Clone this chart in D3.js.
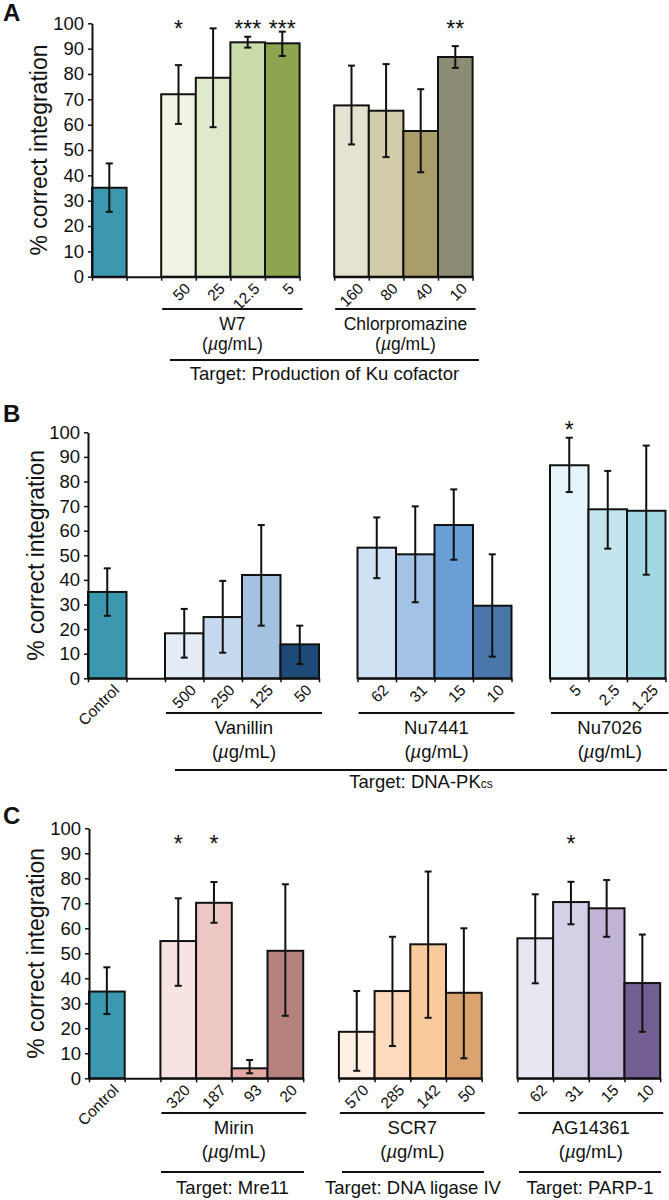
<!DOCTYPE html>
<html><head><meta charset="utf-8">
<script src="https://cdn.jsdelivr.net/npm/d3@7"></script>
<style>
body{margin:0;background:#fff}
svg{display:block}
text{font-family:"Liberation Sans",Arial,Helvetica,sans-serif;fill:#111}
</style></head>
<body><svg id="chart" width="669" height="1200"></svg>
<script>
// ---------- DATA ----------
const yTicks = [0,10,20,30,40,50,60,70,80,90,100];
const yTitle = "% correct integration";
const controlLabel = "Control";

// Panel A
const A_control = [35.1], A_controlLow = [25.6], A_controlHigh = [44.7];
const A_W7_doses = ["50","25","12.5","5"];
const A_W7_values = [72.0,78.5,92.5,92.1];
const A_W7_low = [60.3,59.0,90.4,87.1];
const A_W7_high = [83.5,98.0,94.7,96.7];
const A_W7_sig = ["*","","***","***"];
const A_CPZ_doses = ["160","80","40","10"];
const A_CPZ_values = [67.6,65.5,57.5,86.7];
const A_CPZ_low = [52.2,47.2,41.2,82.4];
const A_CPZ_high = [83.3,83.9,74.0,91.0];
const A_CPZ_sig = ["","","","**"];

// Panel B
const B_control = [35.1], B_controlLow = [25.4], B_controlHigh = [44.7];
const B_VAN_doses = ["500","250","125","50"];
const B_VAN_values = [18.3,24.9,42.0,13.8];
const B_VAN_low = [8.4,10.4,21.4,5.8];
const B_VAN_high = [28.2,39.6,62.3,21.4];
const B_VAN_sig = ["","","",""];
const B_N41_doses = ["62","31","15","10"];
const B_N41_values = [53.1,50.4,62.3,29.5];
const B_N41_low = [40.7,30.9,48.2,8.8];
const B_N41_high = [65.4,69.9,76.8,50.4];
const B_N41_sig = ["","","",""];
const B_N26_doses = ["5","2.5","1.25"];
const B_N26_values = [86.6,68.7,68.1];
const B_N26_low = [75.7,52.7,42.1];
const B_N26_high = [97.8,84.3,94.6];
const B_N26_sig = ["*","",""];

// Panel C
const C_control = [34.7], C_controlLow = [25.7], C_controlHigh = [44.4];
const C_MIR_doses = ["320","187","93","20"];
const C_MIR_values = [54.9,70.2,4.0,51.0];
const C_MIR_low = [37.0,62.2,2.0,25.0];
const C_MIR_high = [72.0,78.5,7.3,77.6];
const C_MIR_sig = ["*","*","",""];
const C_SCR_doses = ["570","285","142","50"];
const C_SCR_values = [18.6,34.9,53.6,34.2];
const C_SCR_low = [3.0,12.9,24.2,8.0];
const C_SCR_high = [34.9,56.6,82.7,60.0];
const C_SCR_sig = ["","","",""];
const C_AG_doses = ["62","31","15","10"];
const C_AG_values = [56.0,70.5,68.0,38.1];
const C_AG_low = [38.0,61.6,56.6,18.6];
const C_AG_high = [73.6,78.6,79.3,57.5];
const C_AG_sig = ["","*","",""];

// ---------- STYLE / LAYOUT ----------
const controlColor = "#3b98af";
const svg = d3.select("#chart");

function mkGroup(name, start, doses, values, low, high, sig, colors) {
  return {name, start, doses, values, low, high, sig, colors};
}

const panels = [
  {letter:"A", letterY:21, y0:276.7, y1:23.3, x0:92, slot:34.6, showControlLabel:false,
   control:[A_control[0],A_controlLow[0],A_controlHigh[0]],
   segments:[[0,6],[7,11]],
   titleX:47, nameSize:17.5, lineGap:21,
   groups:[
     mkGroup("W7",2,A_W7_doses,A_W7_values,A_W7_low,A_W7_high,A_W7_sig,["#eff4e4","#dfe9cb","#c9dcaa","#8ea54f"]),
     mkGroup("Chlorpromazine",7,A_CPZ_doses,A_CPZ_values,A_CPZ_low,A_CPZ_high,A_CPZ_sig,["#e5e2d1","#d2cca9","#a99d6b","#8c8b74"])
   ],
   nameY:330, unitY:350, starY:37,
   targets:[{text:"Target:  Production of Ku cofactor", x1:170, x2:479, lineY:360, textY:380}]
  },
  {letter:"B", letterY:422, y0:678.3, y1:432.3, x0:88, slot:38.5, showControlLabel:true,
   control:[B_control[0],B_controlLow[0],B_controlHigh[0]],
   segments:[[0,6],[7,11],[12,15]],
   titleX:44, nameSize:18.5, lineGap:21,
   groups:[
     mkGroup("Vanillin",2,B_VAN_doses,B_VAN_values,B_VAN_low,B_VAN_high,B_VAN_sig,["#e4edf7","#c7daed","#a4c1e1","#1e4a77"]),
     mkGroup("Nu7441",7,B_N41_doses,B_N41_values,B_N41_low,B_N41_high,B_N41_sig,["#d0e1f3","#a3c3e6","#6a9fd5","#4a76a9"]),
     mkGroup("Nu7026",12,B_N26_doses,B_N26_values,B_N26_low,B_N26_high,B_N26_sig,["#e5f3fa","#c4e5ef","#a4d7e4"])
   ],
   nameY:734, unitY:758, starY:438,
   targets:[{text:"Target: DNA-PK", sub:"cs", x1:175, x2:667, lineY:770, textY:788}]
  },
  {letter:"C", letterY:824, y0:1078.3, y1:828.3, x0:89, slot:35.7, showControlLabel:true,
   control:[C_control[0],C_controlLow[0],C_controlHigh[0]],
   segments:[[0,6],[7,11],[12,16]],
   titleX:44, nameSize:18.5, lineGap:21,
   groups:[
     mkGroup("Mirin",2,C_MIR_doses,C_MIR_values,C_MIR_low,C_MIR_high,C_MIR_sig,["#f7e4e2","#edc7c4","#e4a9a5","#b5817d"]),
     mkGroup("SCR7",7,C_SCR_doses,C_SCR_values,C_SCR_low,C_SCR_high,C_SCR_sig,["#fdf0e2","#fcdabb","#f9ca9b","#daa36f"]),
     mkGroup("AG14361",12,C_AG_doses,C_AG_values,C_AG_low,C_AG_high,C_AG_sig,["#e9e6f1","#d4d0e5","#c0b3d6","#745f92"])
   ],
   nameY:1134, unitY:1158, starY:852,
   targets:[
     {text:"Target: Mre11", x1:161, x2:304, lineY:1172, textY:1194},
     {text:"Target: DNA ligase IV", x1:342, x2:484, lineY:1172, textY:1194},
     {text:"Target: PARP-1", x1:519, x2:661, lineY:1172, textY:1194}
   ]
  }
];

function drawPanel(p) {
  const y = d3.scaleLinear().domain([0,100]).range([p.y0, p.y1]);
  const x = d3.scaleLinear().domain([0,1]).range([p.x0, p.x0 + p.slot]);
  const g = svg.append("g");

  g.append("text").attr("x",3).attr("y",p.letterY).attr("font-size",24).attr("font-weight","bold").text(p.letter);

  const bars = [{slot:0, v:p.control[0], lo:p.control[1], hi:p.control[2], color:controlColor, sig:""}];
  p.groups.forEach(gr => gr.values.forEach((v,i) => bars.push({
    slot: gr.start + i, v, lo: gr.low[i], hi: gr.high[i], color: gr.colors[i], sig: gr.sig[i], dose: gr.doses[i]
  })));

  g.selectAll("rect.bar").data(bars).join("rect").attr("class","bar")
    .attr("x", d => x(d.slot)).attr("width", d => x(d.slot+1) - x(d.slot))
    .attr("y", d => y(d.v)).attr("height", d => y(0) - y(d.v))
    .attr("fill", d => d.color).attr("stroke","#111").attr("stroke-width",2);

  const eb = g.selectAll("g.eb").data(bars).join("g").attr("class","eb")
    .attr("transform", d => `translate(${x(d.slot+0.5)},0)`);
  eb.append("line").attr("y1", d => y(d.lo)).attr("y2", d => y(d.hi)).attr("stroke","#111").attr("stroke-width",2);
  eb.append("line").attr("x1",-3.5).attr("x2",3.5).attr("y1", d => y(d.lo)).attr("y2", d => y(d.lo)).attr("stroke","#111").attr("stroke-width",2);
  eb.append("line").attr("x1",-3.5).attr("x2",3.5).attr("y1", d => y(d.hi)).attr("y2", d => y(d.hi)).attr("stroke","#111").attr("stroke-width",2);

  g.selectAll("text.sig").data(bars.filter(d => d.sig)).join("text").attr("class","sig")
    .attr("x", d => x(d.slot+0.5)).attr("y", p.starY).attr("text-anchor","middle").attr("font-size",23)
    .text(d => d.sig);

  const ya = g.append("g").attr("transform",`translate(${p.x0},0)`)
    .call(d3.axisLeft(y).tickValues(yTicks).tickSize(4).tickSizeOuter(0).tickPadding(4).tickFormat(d3.format("d")));
  ya.select(".domain").attr("stroke","#111").attr("stroke-width",2);
  ya.selectAll(".tick line").attr("stroke","#111").attr("stroke-width",1.5);
  ya.selectAll(".tick text").attr("font-size",18.5).attr("fill","#111").style("font-family",'"Liberation Sans",Arial,sans-serif');

  g.append("text").attr("transform",`translate(${p.titleX},${(p.y0+p.y1)/2}) rotate(-90)`)
    .attr("text-anchor","middle").attr("font-size",23).text(yTitle);

  p.segments.forEach(([s0,s1]) => {
    const xs = d3.scaleLinear().domain([s0,s1]).range([x(s0), x(s1)]);
    const xa = g.append("g").attr("transform",`translate(0,${y(0)})`)
      .call(d3.axisBottom(xs).tickValues(d3.range(s0,s1+1)).tickSize(4).tickSizeOuter(0).tickFormat(""));
    xa.select(".domain").attr("stroke","#111").attr("stroke-width",2);
    xa.selectAll(".tick line").attr("stroke","#111").attr("stroke-width",1.5);
  });

  const rot = bars.filter(d => d.dose !== undefined);
  g.selectAll("text.dose").data(rot).join("text").attr("class","dose")
    .attr("transform", d => `translate(${x(d.slot+0.5)+9},${y(0)+9}) rotate(-45)`)
    .attr("text-anchor","end").attr("dy","0.35em").attr("font-size",15.5).text(d => d.dose);
  if (p.showControlLabel) {
    g.append("text").attr("transform",`translate(${x(0.5)+9},${y(0)+9}) rotate(-45)`)
      .attr("text-anchor","end").attr("dy","0.35em").attr("font-size",15.5).text(controlLabel);
  }

  p.groups.forEach(gr => {
    const gx1 = x(gr.start), gx2 = x(gr.start + gr.values.length);
    const uy = p.nameY - p.lineGap;
    g.append("line").attr("x1",gx1+1).attr("x2",gx2+3).attr("y1",uy).attr("y2",uy).attr("stroke","#111").attr("stroke-width",2);
    const cx = (gx1+gx2)/2 + 2;
    g.append("text").attr("x",cx).attr("y",p.nameY).attr("text-anchor","middle").attr("font-size",p.nameSize).text(gr.name);
    const u = g.append("text").attr("x",cx).attr("y",p.unitY).attr("text-anchor","middle").attr("font-size",p.nameSize);
    u.append("tspan").text("(");
    u.append("tspan").attr("font-style","italic").text("\u00b5");
    u.append("tspan").text("g/mL)");
  });

  p.targets.forEach(t => {
    g.append("line").attr("x1",t.x1).attr("x2",t.x2).attr("y1",t.lineY).attr("y2",t.lineY).attr("stroke","#111").attr("stroke-width",2);
    const tx = g.append("text").attr("x",(t.x1+t.x2)/2).attr("y",t.textY).attr("text-anchor","middle").attr("font-size",18.5);
    tx.append("tspan").text(t.text);
    if (t.sub) tx.append("tspan").attr("font-size",12).text(t.sub);
  });
}

panels.forEach(drawPanel);
</script></body></html>
